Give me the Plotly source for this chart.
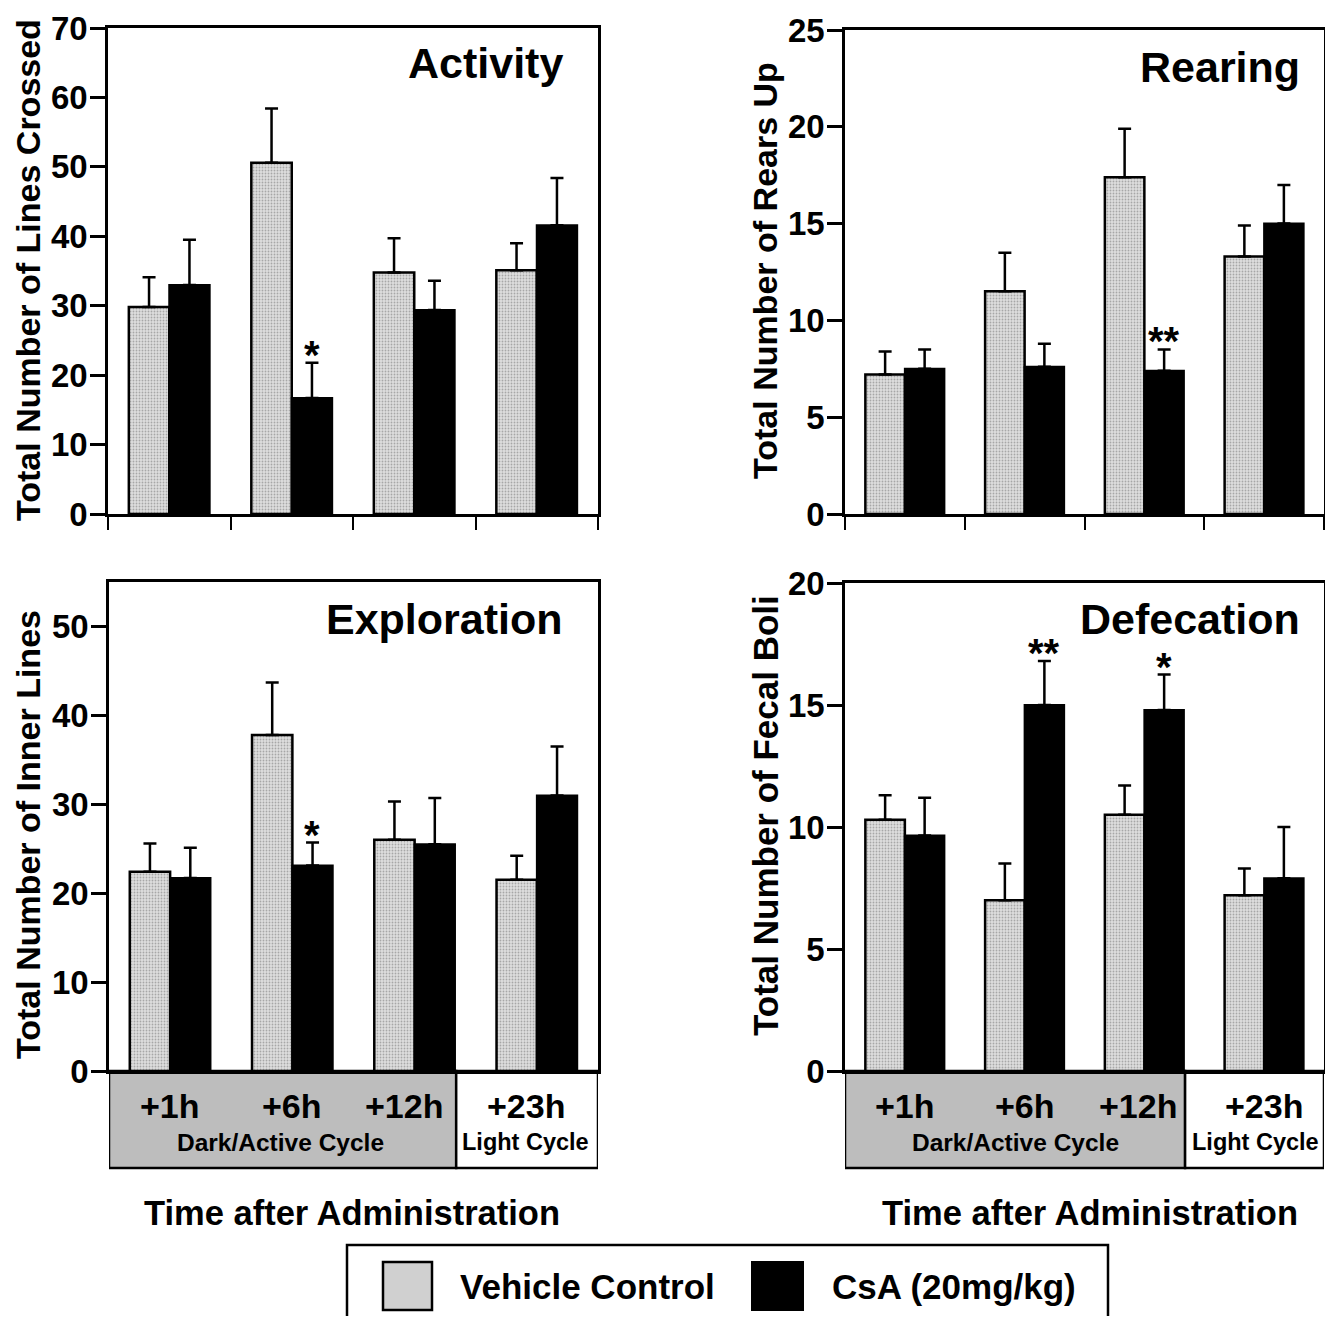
import plotly.graph_objects as go

# ---------------- data ----------------
time_points = ["+1h", "+6h", "+12h", "+23h"]
x_pos = [0, 1, 2, 3]

activity_vehicle = [29.8, 50.6, 34.8, 35.1]
activity_vehicle_sem = [4.3, 7.8, 4.9, 3.9]
activity_csa = [33.0, 16.7, 29.4, 41.6]
activity_csa_sem = [6.5, 5.1, 4.2, 6.8]

rearing_vehicle = [7.2, 11.5, 17.4, 13.3]
rearing_vehicle_sem = [1.2, 2.0, 2.5, 1.6]
rearing_csa = [7.5, 7.6, 7.4, 15.0]
rearing_csa_sem = [1.0, 1.2, 1.1, 2.0]

exploration_vehicle = [22.4, 37.8, 26.0, 21.5]
exploration_vehicle_sem = [3.2, 5.9, 4.3, 2.7]
exploration_csa = [21.7, 23.1, 25.5, 31.0]
exploration_csa_sem = [3.4, 2.6, 5.2, 5.5]

defecation_vehicle = [10.3, 7.0, 10.5, 7.2]
defecation_vehicle_sem = [1.0, 1.5, 1.2, 1.1]
defecation_csa = [9.65, 15.0, 14.8, 7.9]
defecation_csa_sem = [1.55, 1.8, 1.45, 2.1]

# significance marks on CsA bars: (category index, mark)
activity_sig = [(1, "*")]
rearing_sig = [(2, "**")]
exploration_sig = [(1, "*")]
defecation_sig = [(1, "**"), (2, "*")]

panels = [
    dict(ax="", title="Activity", ytitle="Total Number of Lines Crossed",
         veh=activity_vehicle, vsem=activity_vehicle_sem,
         csa=activity_csa, csem=activity_csa_sem, sig=activity_sig,
         yrange=[0, 70], ytick=10, ysize=34),
    dict(ax="2", title="Rearing", ytitle="Total Number of Rears Up",
         veh=rearing_vehicle, vsem=rearing_vehicle_sem,
         csa=rearing_csa, csem=rearing_csa_sem, sig=rearing_sig,
         yrange=[0, 25], ytick=5, ysize=34),
    dict(ax="3", title="Exploration", ytitle="Total Number of Inner Lines",
         veh=exploration_vehicle, vsem=exploration_vehicle_sem,
         csa=exploration_csa, csem=exploration_csa_sem, sig=exploration_sig,
         yrange=[0, 55], ytick=10, ysize=34),
    dict(ax="4", title="Defecation", ytitle="Total Number of Fecal Boli",
         veh=defecation_vehicle, vsem=defecation_vehicle_sem,
         csa=defecation_csa, csem=defecation_csa_sem, sig=defecation_sig,
         yrange=[0, 20], ytick=5, ysize=35),
]

# page body has an 8px margin; size the figure so the page fits the window
OFF = 8
W, H = 1333 - 2 * OFF, 1324 - 2 * OFF
FONT = "Liberation Sans, Arial, Helvetica, sans-serif"


def px(xp):
    return min(1.0, (xp - OFF) / W)


def py(yp):
    return 1 - (yp - OFF) / H


domains = {
    "": dict(x=[px(108), px(598)], y=[py(514), py(28)]),
    "2": dict(x=[px(845), px(1324)], y=[py(514), py(30)]),
    "3": dict(x=[px(109), px(598)], y=[py(1071), py(582)]),
    "4": dict(x=[px(845), px(1324)], y=[py(1071), py(583)]),
}

fig = go.Figure()
annotations = []
shapes = []

for p in panels:
    a = p["ax"]
    xa = "x" + a
    ya = "y" + a
    fig.add_trace(go.Bar(
        x=x_pos, y=p["veh"], xaxis=xa, yaxis=ya, name="Vehicle Control",
        marker=dict(color="#d8d8d8", line=dict(color="black", width=2.5),
                    pattern=dict(shape=".", fgcolor="#707070", bgcolor="#dedede",
                                 size=3, solidity=0.3)),
        error_y=dict(type="data", symmetric=False, array=p["vsem"],
                     arrayminus=[0] * 4, color="black", thickness=2.5, width=6.5),
        showlegend=False, offsetgroup="veh"))
    fig.add_trace(go.Bar(
        x=x_pos, y=p["csa"], xaxis=xa, yaxis=ya, name="CsA (20mg/kg)",
        marker=dict(color="black", line=dict(color="black", width=2)),
        error_y=dict(type="data", symmetric=False, array=p["csem"],
                     arrayminus=[0] * 4, color="black", thickness=2.5, width=6.5),
        showlegend=False, offsetgroup="csa"))

    bottom = a in ("3", "4")
    xkey = "xaxis" + a
    ykey = "yaxis" + a
    fig.update_layout(**{
        xkey: dict(domain=domains[a]["x"], anchor=ya, range=[-0.5, 3.5],
                   showline=True, linecolor="black", linewidth=2.5, mirror=True,
                   tickvals=[-0.5, 0.5, 1.5, 2.5, 3.5],
                   ticks="" if bottom else "outside", ticklen=13, tickwidth=2,
                   tickcolor="black", showticklabels=False, showgrid=False,
                   zeroline=False, fixedrange=True, automargin=False),
        ykey: dict(domain=domains[a]["y"], anchor=xa, range=p["yrange"],
                   dtick=p["ytick"], tick0=0, showline=True, linecolor="black",
                   linewidth=2.5, mirror=True, ticks="outside", ticklen=15,
                   tickwidth=2.5, tickcolor="black", showgrid=False,
                   zeroline=False, ticklabelstandoff=-4,
                   tickfont=dict(size=33, family=FONT, color="black",
                                 weight="bold"),
                   fixedrange=True, automargin=False),
    })

    # panel title (top right inside the box)
    right_px = 565 if a in ("", "3") else 1302
    title_y = {"": 63, "2": 67, "3": 619, "4": 619}[a]
    annotations.append(dict(
        text=p["title"], xref="paper", yref="paper",
        x=px(right_px), y=py(title_y),
        xanchor="right", yanchor="middle", showarrow=False,
        font=dict(size=43, family=FONT, color="black", weight="bold")))

    # significance stars above CsA error bars
    for idx, mark in p["sig"]:
        annotations.append(dict(
            text=mark, xref=xa, yref=ya,
            x=x_pos[idx] + 0.1625,
            y=p["csa"][idx] + p["csem"][idx], xanchor="center",
            yanchor="bottom", showarrow=False, yshift=-16,
            font=dict(size=40, family=FONT, color="black", weight="bold")))

# y-axis titles
ytitle_pos = {"": (28, 270), "2": (765, 271), "3": (28, 835), "4": (765, 816)}
for p in panels:
    xx, yy = ytitle_pos[p["ax"]]
    annotations.append(dict(
        text=p["ytitle"], xref="paper", yref="paper", x=px(xx), y=py(yy),
        textangle=-90, showarrow=False, xanchor="center", yanchor="middle",
        font=dict(size=p["ysize"], family=FONT, color="black", weight="bold")))

# time label boxes under bottom panels
split_x = 2.34
label_pos = {
    "3": dict(h=[0.0, 1.0, 1.91, 2.91], dark=0.90, light=2.91),
    "4": dict(h=[0.0, 1.0, 1.95, 3.0], dark=0.92, light=2.93),
}
for a in ("3", "4"):
    xa = "x" + a
    shapes.append(dict(type="rect", xref=xa, yref="paper", x0=-0.5, x1=split_x,
                       y0=py(1168), y1=py(1071), fillcolor="#bdbdbd",
                       line=dict(color="black", width=2.5), layer="below"))
    shapes.append(dict(type="rect", xref=xa, yref="paper", x0=split_x, x1=3.5,
                       y0=py(1168), y1=py(1071), fillcolor="white",
                       line=dict(color="black", width=2.5), layer="below"))
    for i, lab in enumerate(time_points):
        annotations.append(dict(
            text=lab, xref=xa, yref="paper", x=label_pos[a]["h"][i],
            y=py(1106), xanchor="center", yanchor="middle",
            showarrow=False,
            font=dict(size=34, family=FONT, color="black", weight="bold")))
    annotations.append(dict(
        text="Dark/Active Cycle", xref=xa, yref="paper", x=label_pos[a]["dark"],
        y=py(1142), xanchor="center", yanchor="middle",
        showarrow=False,
        font=dict(size=24.5, family=FONT, color="black", weight="bold")))
    annotations.append(dict(
        text="Light Cycle", xref=xa, yref="paper", x=label_pos[a]["light"],
        y=py(1142), xanchor="center", yanchor="middle",
        showarrow=False,
        font=dict(size=23.5, family=FONT, color="black", weight="bold")))

# x-axis titles
for xc in (352, 1090):
    annotations.append(dict(
        text="Time after Administration", xref="paper", yref="paper",
        x=px(xc), y=py(1213), xanchor="center", yanchor="middle",
        showarrow=False,
        font=dict(size=34.5, family=FONT, color="black", weight="bold")))

# legend box
shapes.append(dict(type="rect", xref="paper", yref="paper",
                   x0=px(347), x1=px(1108), y0=py(1345), y1=py(1245),
                   fillcolor="white", line=dict(color="black", width=2.5)))
shapes.append(dict(type="rect", xref="paper", yref="paper",
                   x0=px(383), x1=px(432), y0=py(1310), y1=py(1262),
                   fillcolor="#d0d0d0", line=dict(color="black", width=2.5)))
shapes.append(dict(type="rect", xref="paper", yref="paper",
                   x0=px(752), x1=px(803), y0=py(1310), y1=py(1262),
                   fillcolor="black", line=dict(color="black", width=2)))
annotations.append(dict(
    text="Vehicle Control", xref="paper", yref="paper", x=px(458), y=py(1286),
    xanchor="left", yanchor="middle", showarrow=False,
    font=dict(size=35, family=FONT, color="black", weight="bold")))
annotations.append(dict(
    text="CsA (20mg/kg)", xref="paper", yref="paper", x=px(830), y=py(1286),
    xanchor="left", yanchor="middle", showarrow=False,
    font=dict(size=35, family=FONT, color="black", weight="bold")))

fig.update_layout(
    width=W, height=H,
    margin=dict(l=0, r=0, t=0, b=0, pad=0, autoexpand=False),
    paper_bgcolor="white", plot_bgcolor="white",
    barmode="group", bargap=0.34, bargroupgap=0,
    font=dict(family=FONT, color="black", weight="bold"),
    annotations=annotations, shapes=shapes, showlegend=False,
)

fig.write_html("out.html")
